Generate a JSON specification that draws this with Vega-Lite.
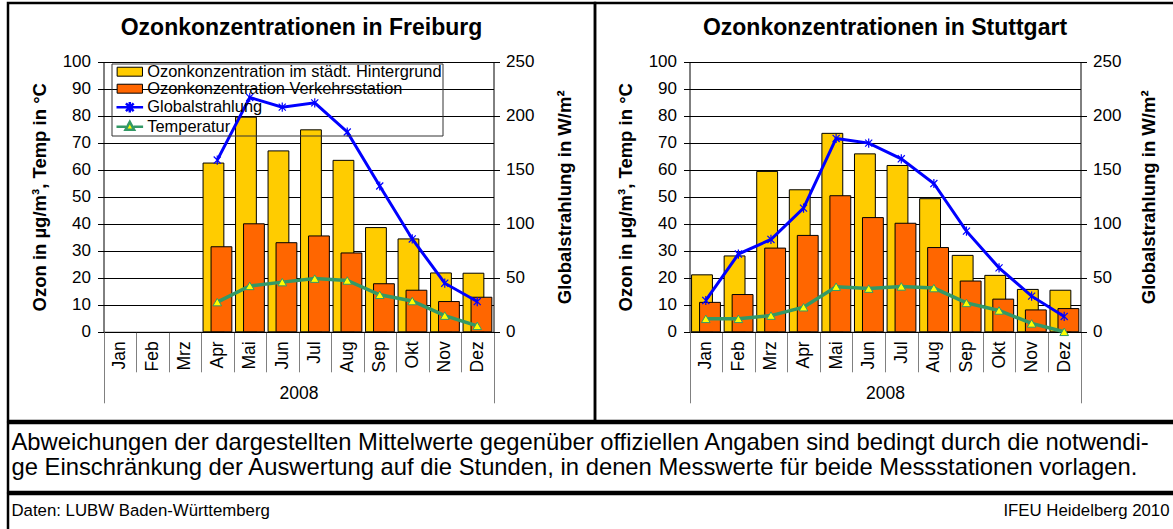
{
  "$schema": "https://vega.github.io/schema/vega-lite/v6.json",
  "padding": {"left": -3, "top": 1, "right": 0, "bottom": 0},
  "background": "white",
  "config": {
    "font": "Liberation Sans",
    "view": {"stroke": "black", "strokeWidth": 2.5},
    "axis": {"labelFont": "Liberation Sans", "titleFont": "Liberation Sans", "labelColor": "black", "titleColor": "black", "domainColor": "black", "tickColor": "black", "gridColor": "black", "gridOpacity": 1, "domainWidth": 1, "tickWidth": 1, "gridWidth": 1},
    "legend": {"labelFont": "Liberation Sans", "labelColor": "black"},
    "title": {"font": "Liberation Sans", "color": "black"}
  },
  "datasets": {
    "freiburg": [
      {"Monat": "Apr", "Nr": 4, "Jahr": "2008", "Hintergrund": 62.5, "Verkehr": 31.5, "Glob": 159, "Temp": 11.0},
      {"Monat": "Mai", "Nr": 5, "Jahr": "2008", "Hintergrund": 79.5, "Verkehr": 40.0, "Glob": 217, "Temp": 17.0},
      {"Monat": "Jun", "Nr": 6, "Jahr": "2008", "Hintergrund": 67.0, "Verkehr": 33.0, "Glob": 208, "Temp": 18.4},
      {"Monat": "Jul", "Nr": 7, "Jahr": "2008", "Hintergrund": 74.8, "Verkehr": 35.5, "Glob": 212, "Temp": 19.7},
      {"Monat": "Aug", "Nr": 8, "Jahr": "2008", "Hintergrund": 63.5, "Verkehr": 29.2, "Glob": 185, "Temp": 19.0},
      {"Monat": "Sep", "Nr": 9, "Jahr": "2008", "Hintergrund": 38.6, "Verkehr": 17.8, "Glob": 135, "Temp": 13.7},
      {"Monat": "Okt", "Nr": 10, "Jahr": "2008", "Hintergrund": 34.4, "Verkehr": 15.4, "Glob": 86, "Temp": 11.4},
      {"Monat": "Nov", "Nr": 11, "Jahr": "2008", "Hintergrund": 21.8, "Verkehr": 11.2, "Glob": 45, "Temp": 6.0},
      {"Monat": "Dez", "Nr": 12, "Jahr": "2008", "Hintergrund": 21.7, "Verkehr": 12.8, "Glob": 28, "Temp": 2.2}
    ],
    "stuttgart": [
      {"Monat": "Jan", "Nr": 1, "Jahr": "2008", "Hintergrund": 21.1, "Verkehr": 10.9, "Glob": 29, "Temp": 4.8},
      {"Monat": "Feb", "Nr": 2, "Jahr": "2008", "Hintergrund": 28.1, "Verkehr": 13.8, "Glob": 72, "Temp": 4.8},
      {"Monat": "Mrz", "Nr": 3, "Jahr": "2008", "Hintergrund": 59.4, "Verkehr": 31.0, "Glob": 85.5, "Temp": 6.0},
      {"Monat": "Apr", "Nr": 4, "Jahr": "2008", "Hintergrund": 52.6, "Verkehr": 35.7, "Glob": 114.5, "Temp": 9.1},
      {"Monat": "Mai", "Nr": 5, "Jahr": "2008", "Hintergrund": 73.5, "Verkehr": 50.4, "Glob": 179, "Temp": 16.7},
      {"Monat": "Jun", "Nr": 6, "Jahr": "2008", "Hintergrund": 65.9, "Verkehr": 42.3, "Glob": 174.7, "Temp": 16.0},
      {"Monat": "Jul", "Nr": 7, "Jahr": "2008", "Hintergrund": 61.6, "Verkehr": 40.2, "Glob": 160.2, "Temp": 16.8},
      {"Monat": "Aug", "Nr": 8, "Jahr": "2008", "Hintergrund": 49.3, "Verkehr": 31.2, "Glob": 137.3, "Temp": 16.2},
      {"Monat": "Sep", "Nr": 9, "Jahr": "2008", "Hintergrund": 28.3, "Verkehr": 18.8, "Glob": 93.2, "Temp": 10.7},
      {"Monat": "Okt", "Nr": 10, "Jahr": "2008", "Hintergrund": 20.9, "Verkehr": 12.1, "Glob": 59.2, "Temp": 7.9},
      {"Monat": "Nov", "Nr": 11, "Jahr": "2008", "Hintergrund": 15.7, "Verkehr": 8.1, "Glob": 33, "Temp": 3.1},
      {"Monat": "Dez", "Nr": 12, "Jahr": "2008", "Hintergrund": 15.4, "Verkehr": 8.6, "Glob": 14.2, "Temp": 0.0}
    ],
    "anmerkung": [
      {"zeile": 1, "spalte": 0, "text": "Abweichungen der dargestellten Mittelwerte gegenüber offiziellen Angaben sind bedingt durch die notwendi-"},
      {"zeile": 2, "spalte": 0, "text": "ge Einschränkung der Auswertung auf die Stunden, in denen Messwerte für beide Messstationen vorlagen."}
    ],
    "quelle": [
      {"zeile": 1, "spalte": 0, "text": "Daten: LUBW Baden-Württemberg"},
      {"zeile": 1, "spalte": 1, "text": "IFEU Heidelberg 2010"}
    ]
  },
  "vconcat": [
    {
      "hconcat": [
        {
          "width": 587, "height": 418,
          "data": {"name": "freiburg"},
          "title": {"text": "Ozonkonzentrationen in Freiburg", "offset": -55, "baseline": "alphabetic", "anchor": "middle", "frame": "group", "fontSize": 23, "fontWeight": "bold"},
          "layer": [
            {
              "layer": [
                {
                  "mark": {"type": "bar", "width": {"band": 0.64}, "xOffset": -3.8, "stroke": "black", "strokeWidth": 1},
                  "encoding": {
                    "x": {"field": "Monat", "type": "nominal", "scale": {"type": "band", "domain": ["Jan", "Feb", "Mrz", "Apr", "Mai", "Jun", "Jul", "Aug", "Sep", "Okt", "Nov", "Dez"], "range": [95.5, 485.5], "paddingInner": 0, "paddingOuter": 0},
                      "axis": {"orient": "bottom", "offset": -89.2, "tickBand": "extent", "tickSize": 40, "tickColor": "#808080", "labelAngle": 270, "labelAlign": "right", "labelBaseline": "middle", "labelPadding": -31, "labelFontSize": 17.5, "labelOverlap": false, "title": "2008", "titleFontWeight": "normal", "titleFontSize": 17.5, "titlePadding": 12, "grid": false}},
                    "y": {"field": "Hintergrund", "type": "quantitative", "scale": {"domain": [0, 100], "range": [328.8, 58.8], "nice": false},
                      "axis": {"orient": "left", "offset": -95.5, "values": [0, 10, 20, 30, 40, 50, 60, 70, 80, 90, 100], "grid": true, "tickSize": 6, "labelFontSize": 17, "labelPadding": 7, "title": "Ozon in µg/m³, Temp in °C", "titleFontSize": 18.5, "titleFontWeight": "bold", "titlePadding": 12.5}},
                    "fill": {"datum": "Ozonkonzentration im städt. Hintergrund", "type": "nominal",
                      "scale": {"domain": ["Ozonkonzentration im städt. Hintergrund", "Ozonkonzentration Verkehrsstation", "Globalstrahlung", "Temperatur"], "range": ["#FFCC00", "#FF6600", "transparent", "#FFFF00"]},
                      "legend": {"title": null, "orient": "none", "legendX": 103.5, "legendY": 60.5, "strokeColor": "#333333", "padding": 0, "labelFontSize": 16.4, "labelOffset": 9.3, "labelLimit": 500, "labelExpr": "datum.label + ' '", "symbolSize": 196, "symbolOffset": 10.1, "rowPadding": -1.5,
                        "encoding": {"symbols": {
                          "shape": {"value": {"expr": "datum.value == 'Globalstrahlung' ? 'M-1.9,0L1.9,0M-0.55,-0.55L0.55,0.55M-0.55,0.55L0.55,-0.55M0,-0.75L0,0.75' : datum.value == 'Temperatur' ? 'M-1.9,0L-0.55,0M0.55,0L1.9,0M0,-0.7L0.62,0.45L-0.62,0.45Z' : 'M-1.81,-0.64L1.81,-0.64L1.81,0.64L-1.81,0.64Z'"}},
                          "stroke": {"value": {"expr": "datum.value == 'Globalstrahlung' ? '#0000FF' : datum.value == 'Temperatur' ? '#339966' : 'black'"}},
                          "strokeWidth": {"value": {"expr": "datum.value == 'Globalstrahlung' || datum.value == 'Temperatur' ? 2.5 : 1"}}
                        }}}
                    }
                  }
                },
                {
                  "mark": {"type": "bar", "width": {"band": 0.64}, "xOffset": 4.2, "stroke": "black", "strokeWidth": 1},
                  "encoding": {
                    "x": {"field": "Monat", "type": "nominal"},
                    "y": {"field": "Verkehr", "type": "quantitative"},
                    "fill": {"datum": "Ozonkonzentration Verkehrsstation", "type": "nominal"}
                  }
                },
                {
                  "mark": {"type": "line", "color": "#339966", "strokeWidth": 3.5},
                  "encoding": {
                    "x": {"field": "Monat", "type": "nominal"},
                    "y": {"field": "Temp", "type": "quantitative"},
                    "order": {"field": "Nr", "type": "quantitative"}
                  }
                },
                {
                  "mark": {"type": "point", "shape": "triangle-up", "filled": true, "fill": "#FFFF00", "stroke": "#339966", "strokeWidth": 1, "size": 75, "opacity": 1},
                  "encoding": {
                    "x": {"field": "Monat", "type": "nominal"},
                    "y": {"field": "Temp", "type": "quantitative"}
                  }
                }
              ]
            },
            {
              "layer": [
                {
                  "mark": {"type": "line", "color": "#0000FF", "strokeWidth": 3},
                  "encoding": {
                    "x": {"field": "Monat", "type": "nominal", "scale": {"type": "band", "domain": ["Jan", "Feb", "Mrz", "Apr", "Mai", "Jun", "Jul", "Aug", "Sep", "Okt", "Nov", "Dez"], "range": [95.5, 485.5], "paddingInner": 0, "paddingOuter": 0}, "axis": null},
                    "y": {"field": "Glob", "type": "quantitative", "scale": {"domain": [0, 250], "range": [328.8, 58.8], "nice": false},
                      "axis": {"orient": "right", "offset": -101.5, "values": [0, 50, 100, 150, 200, 250], "grid": false, "tickSize": 6, "labelFontSize": 17, "labelPadding": 6, "title": "Globalstrahlung in W/m²", "titleFontSize": 18.5, "titleFontWeight": "bold", "titleAngle": 270, "titleBaseline": "top", "titlePadding": 22}},
                    "order": {"field": "Nr", "type": "quantitative"}
                  }
                },
                {
                  "mark": {"type": "point", "shape": "M-1,-1L1,1M-1,1L1,-1M0,-1.3L0,1.3", "filled": false, "stroke": "#0000FF", "strokeWidth": 1.2, "size": 50, "opacity": 1},
                  "encoding": {
                    "x": {"field": "Monat", "type": "nominal"},
                    "y": {"field": "Glob", "type": "quantitative"}
                  }
                }
              ]
            },
            {
              "mark": {"type": "point", "opacity": 0},
              "encoding": {
                "x": {"field": "Jahr", "type": "nominal", "scale": {"type": "band", "domain": ["2008"], "range": [95.5, 485.5], "paddingInner": 0, "paddingOuter": 0},
                  "axis": {"orient": "bottom", "offset": -89.2, "domain": false, "labels": false, "ticks": true, "tickBand": "extent", "tickSize": 71, "tickColor": "#808080", "title": null, "grid": false}}
              }
            }
          ],
          "resolve": {"scale": {"x": "independent", "y": "independent"}}
        },
        {
          "width": 580, "height": 418,
          "data": {"name": "stuttgart"},
          "title": {"text": "Ozonkonzentrationen in Stuttgart", "offset": -55, "baseline": "alphabetic", "anchor": "middle", "frame": "group", "fontSize": 23, "fontWeight": "bold"},
          "layer": [
            {
              "layer": [
                {
                  "mark": {"type": "bar", "width": {"band": 0.64}, "xOffset": -3.8, "stroke": "black", "strokeWidth": 1},
                  "encoding": {
                    "x": {"field": "Monat", "type": "nominal", "scale": {"type": "band", "domain": ["Jan", "Feb", "Mrz", "Apr", "Mai", "Jun", "Jul", "Aug", "Sep", "Okt", "Nov", "Dez"], "range": [94.5, 485.5], "paddingInner": 0, "paddingOuter": 0},
                      "axis": {"orient": "bottom", "offset": -89.2, "tickBand": "extent", "tickSize": 40, "tickColor": "#808080", "labelAngle": 270, "labelAlign": "right", "labelBaseline": "middle", "labelPadding": -31, "labelFontSize": 17.5, "labelOverlap": false, "title": "2008", "titleFontWeight": "normal", "titleFontSize": 17.5, "titlePadding": 12, "grid": false}},
                    "y": {"field": "Hintergrund", "type": "quantitative", "scale": {"domain": [0, 100], "range": [328.8, 58.8], "nice": false},
                      "axis": {"orient": "left", "offset": -94.5, "values": [0, 10, 20, 30, 40, 50, 60, 70, 80, 90, 100], "grid": true, "tickSize": 6, "labelFontSize": 17, "labelPadding": 7, "title": "Ozon in µg/m³, Temp in °C", "titleFontSize": 18.5, "titleFontWeight": "bold", "titlePadding": 12.5}},
                    "fill": {"datum": "Ozonkonzentration im städt. Hintergrund", "type": "nominal",
                      "scale": {"domain": ["Ozonkonzentration im städt. Hintergrund", "Ozonkonzentration Verkehrsstation", "Globalstrahlung", "Temperatur"], "range": ["#FFCC00", "#FF6600", "transparent", "#FFFF00"]},
                      "legend": {"title": null, "orient": "none", "legendX": 101.2, "legendY": 59.8, "strokeColor": "#333333", "padding": 0, "labelFontSize": 16.4, "labelOffset": 9.3, "labelLimit": 500, "labelExpr": "datum.label + ' '", "symbolSize": 196, "symbolOffset": 10.1, "rowPadding": -1.5,
                        "encoding": {"symbols": {
                          "shape": {"value": {"expr": "datum.value == 'Globalstrahlung' ? 'M-1.9,0L1.9,0M-0.55,-0.55L0.55,0.55M-0.55,0.55L0.55,-0.55M0,-0.75L0,0.75' : datum.value == 'Temperatur' ? 'M-1.9,0L-0.55,0M0.55,0L1.9,0M0,-0.7L0.62,0.45L-0.62,0.45Z' : 'M-1.81,-0.64L1.81,-0.64L1.81,0.64L-1.81,0.64Z'"}},
                          "stroke": {"value": {"expr": "datum.value == 'Globalstrahlung' ? '#0000FF' : datum.value == 'Temperatur' ? '#339966' : 'black'"}},
                          "strokeWidth": {"value": {"expr": "datum.value == 'Globalstrahlung' || datum.value == 'Temperatur' ? 2.5 : 1"}}
                        }}}
                    }
                  }
                },
                {
                  "mark": {"type": "bar", "width": {"band": 0.64}, "xOffset": 4.2, "stroke": "black", "strokeWidth": 1},
                  "encoding": {
                    "x": {"field": "Monat", "type": "nominal"},
                    "y": {"field": "Verkehr", "type": "quantitative"},
                    "fill": {"datum": "Ozonkonzentration Verkehrsstation", "type": "nominal"}
                  }
                },
                {
                  "mark": {"type": "line", "color": "#339966", "strokeWidth": 3.5},
                  "encoding": {
                    "x": {"field": "Monat", "type": "nominal"},
                    "y": {"field": "Temp", "type": "quantitative"},
                    "order": {"field": "Nr", "type": "quantitative"}
                  }
                },
                {
                  "mark": {"type": "point", "shape": "triangle-up", "filled": true, "fill": "#FFFF00", "stroke": "#339966", "strokeWidth": 1, "size": 75, "opacity": 1},
                  "encoding": {
                    "x": {"field": "Monat", "type": "nominal"},
                    "y": {"field": "Temp", "type": "quantitative"}
                  }
                }
              ]
            },
            {
              "layer": [
                {
                  "mark": {"type": "line", "color": "#0000FF", "strokeWidth": 3},
                  "encoding": {
                    "x": {"field": "Monat", "type": "nominal", "scale": {"type": "band", "domain": ["Jan", "Feb", "Mrz", "Apr", "Mai", "Jun", "Jul", "Aug", "Sep", "Okt", "Nov", "Dez"], "range": [94.5, 485.5], "paddingInner": 0, "paddingOuter": 0}, "axis": null},
                    "y": {"field": "Glob", "type": "quantitative", "scale": {"domain": [0, 250], "range": [328.8, 58.8], "nice": false},
                      "axis": {"orient": "right", "offset": -94.5, "values": [0, 50, 100, 150, 200, 250], "grid": false, "tickSize": 6, "labelFontSize": 17, "labelPadding": 6, "title": "Globalstrahlung in W/m²", "titleFontSize": 18.5, "titleFontWeight": "bold", "titleAngle": 270, "titleBaseline": "top", "titlePadding": 19}},
                    "order": {"field": "Nr", "type": "quantitative"}
                  }
                },
                {
                  "mark": {"type": "point", "shape": "M-1,-1L1,1M-1,1L1,-1M0,-1.3L0,1.3", "filled": false, "stroke": "#0000FF", "strokeWidth": 1.2, "size": 50, "opacity": 1},
                  "encoding": {
                    "x": {"field": "Monat", "type": "nominal"},
                    "y": {"field": "Glob", "type": "quantitative"}
                  }
                }
              ]
            },
            {
              "mark": {"type": "point", "opacity": 0},
              "encoding": {
                "x": {"field": "Jahr", "type": "nominal", "scale": {"type": "band", "domain": ["2008"], "range": [94.5, 485.5], "paddingInner": 0, "paddingOuter": 0},
                  "axis": {"orient": "bottom", "offset": -89.2, "domain": false, "labels": false, "ticks": true, "tickBand": "extent", "tickSize": 71, "tickColor": "#808080", "title": null, "grid": false}}
              }
            }
          ],
          "resolve": {"scale": {"x": "independent", "y": "independent"}}
        }
      ],
      "spacing": 0,
      "bounds": "flush"
    },
    {
      "width": 1167, "height": 69,
      "data": {"name": "anmerkung"},
      "mark": {"type": "text", "align": "left", "baseline": "alphabetic", "fontSize": 23.8, "font": "Liberation Sans", "color": "black"},
      "encoding": {
        "x": {"field": "spalte", "type": "quantitative", "scale": {"domain": [0, 1], "range": [3.5, 1161.5]}, "axis": null},
        "y": {"field": "zeile", "type": "quantitative", "scale": {"domain": [1, 2], "range": [26.8, 51.8]}, "axis": null},
        "text": {"field": "text", "type": "nominal"}
      }
    },
    {
      "width": 1167, "height": 39,
      "data": {"name": "quelle"},
      "mark": {"type": "text", "align": {"expr": "datum.spalte == 1 ? 'right' : 'left'"}, "baseline": "alphabetic", "fontSize": 16.8, "font": "Liberation Sans", "color": "black"},
      "encoding": {
        "x": {"field": "spalte", "type": "quantitative", "scale": {"domain": [0, 1], "range": [3.5, 1161.5]}, "axis": null},
        "y": {"field": "zeile", "type": "quantitative", "scale": {"domain": [1, 2], "range": [21.5, 46.5]}, "axis": null},
        "text": {"field": "text", "type": "nominal"}
      }
    }
  ],
  "spacing": -3
}
